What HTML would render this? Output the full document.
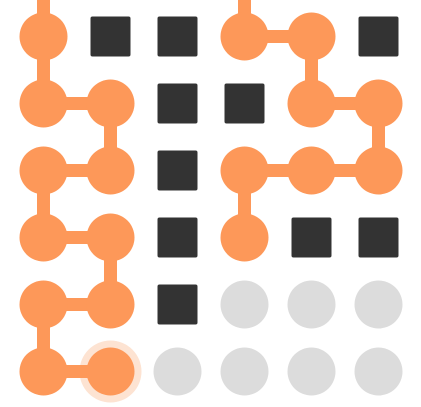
<!DOCTYPE html>
<html><head><meta charset="utf-8"><style>
html,body{margin:0;padding:0;background:#fff;width:421px;height:407px;overflow:hidden}
</style></head><body>
<svg id="chart" width="421" height="407" xmlns="http://www.w3.org/2000/svg"></svg>
<script>
const cells = [
  "OSSOOS",
  "OOSSOO",
  "OOSOOO",
  "OOSOSS",
  "OOSGGG",
  "OOGGGG"
];
const links = [
  [[0,-1],[0,0]],[[0,0],[0,1]],[[0,1],[1,1]],[[1,1],[1,2]],[[1,2],[0,2]],[[0,2],[0,3]],
  [[0,3],[1,3]],[[1,3],[1,4]],[[1,4],[0,4]],[[0,4],[0,5]],[[0,5],[1,5]],
  [[3,-1],[3,0]],[[3,0],[4,0]],[[4,0],[4,1]],[[4,1],[5,1]],[[5,1],[5,2]],[[5,2],[4,2]],[[4,2],[3,2]],[[3,2],[3,3]]
];
const current = [1,5];
const svg = document.getElementById('chart');
const NS = 'http://www.w3.org/2000/svg';
const cx = c => 43.5 + c*67;
const cy = r => r < 0 ? -10 : 36.5 + r*67;
function mk(tag, attrs){const e=document.createElementNS(NS,tag);for(const k in attrs)e.setAttribute(k,attrs[k]);svg.appendChild(e);return e;}
const OR = '#fd9859';
// halo
const h = mk('circle',{cx:cx(current[0]),cy:cy(current[1]),r:31,fill:'#fde3d2'});


links.forEach(l=>{
  const e = mk('line',{x1:cx(l[0][0]),y1:cy(l[0][1]),x2:cx(l[1][0]),y2:cy(l[1][1]),stroke:OR,'stroke-width':13});
  
  
});
cells.forEach((row,r)=>{
  [...row].forEach((t,c)=>{
    let e;
    if(t==='S'){
      e = mk('rect',{x:cx(c)-20,y:cy(r)-20,width:40,height:40,rx:2,fill:'#333333'});
      
      
    } else {
      e = mk('circle',{cx:cx(c),cy:cy(r),r:24,fill:t==='O'?OR:'#dcdcdc'});
      
      
    }
  });
});
</script>
</body></html>
